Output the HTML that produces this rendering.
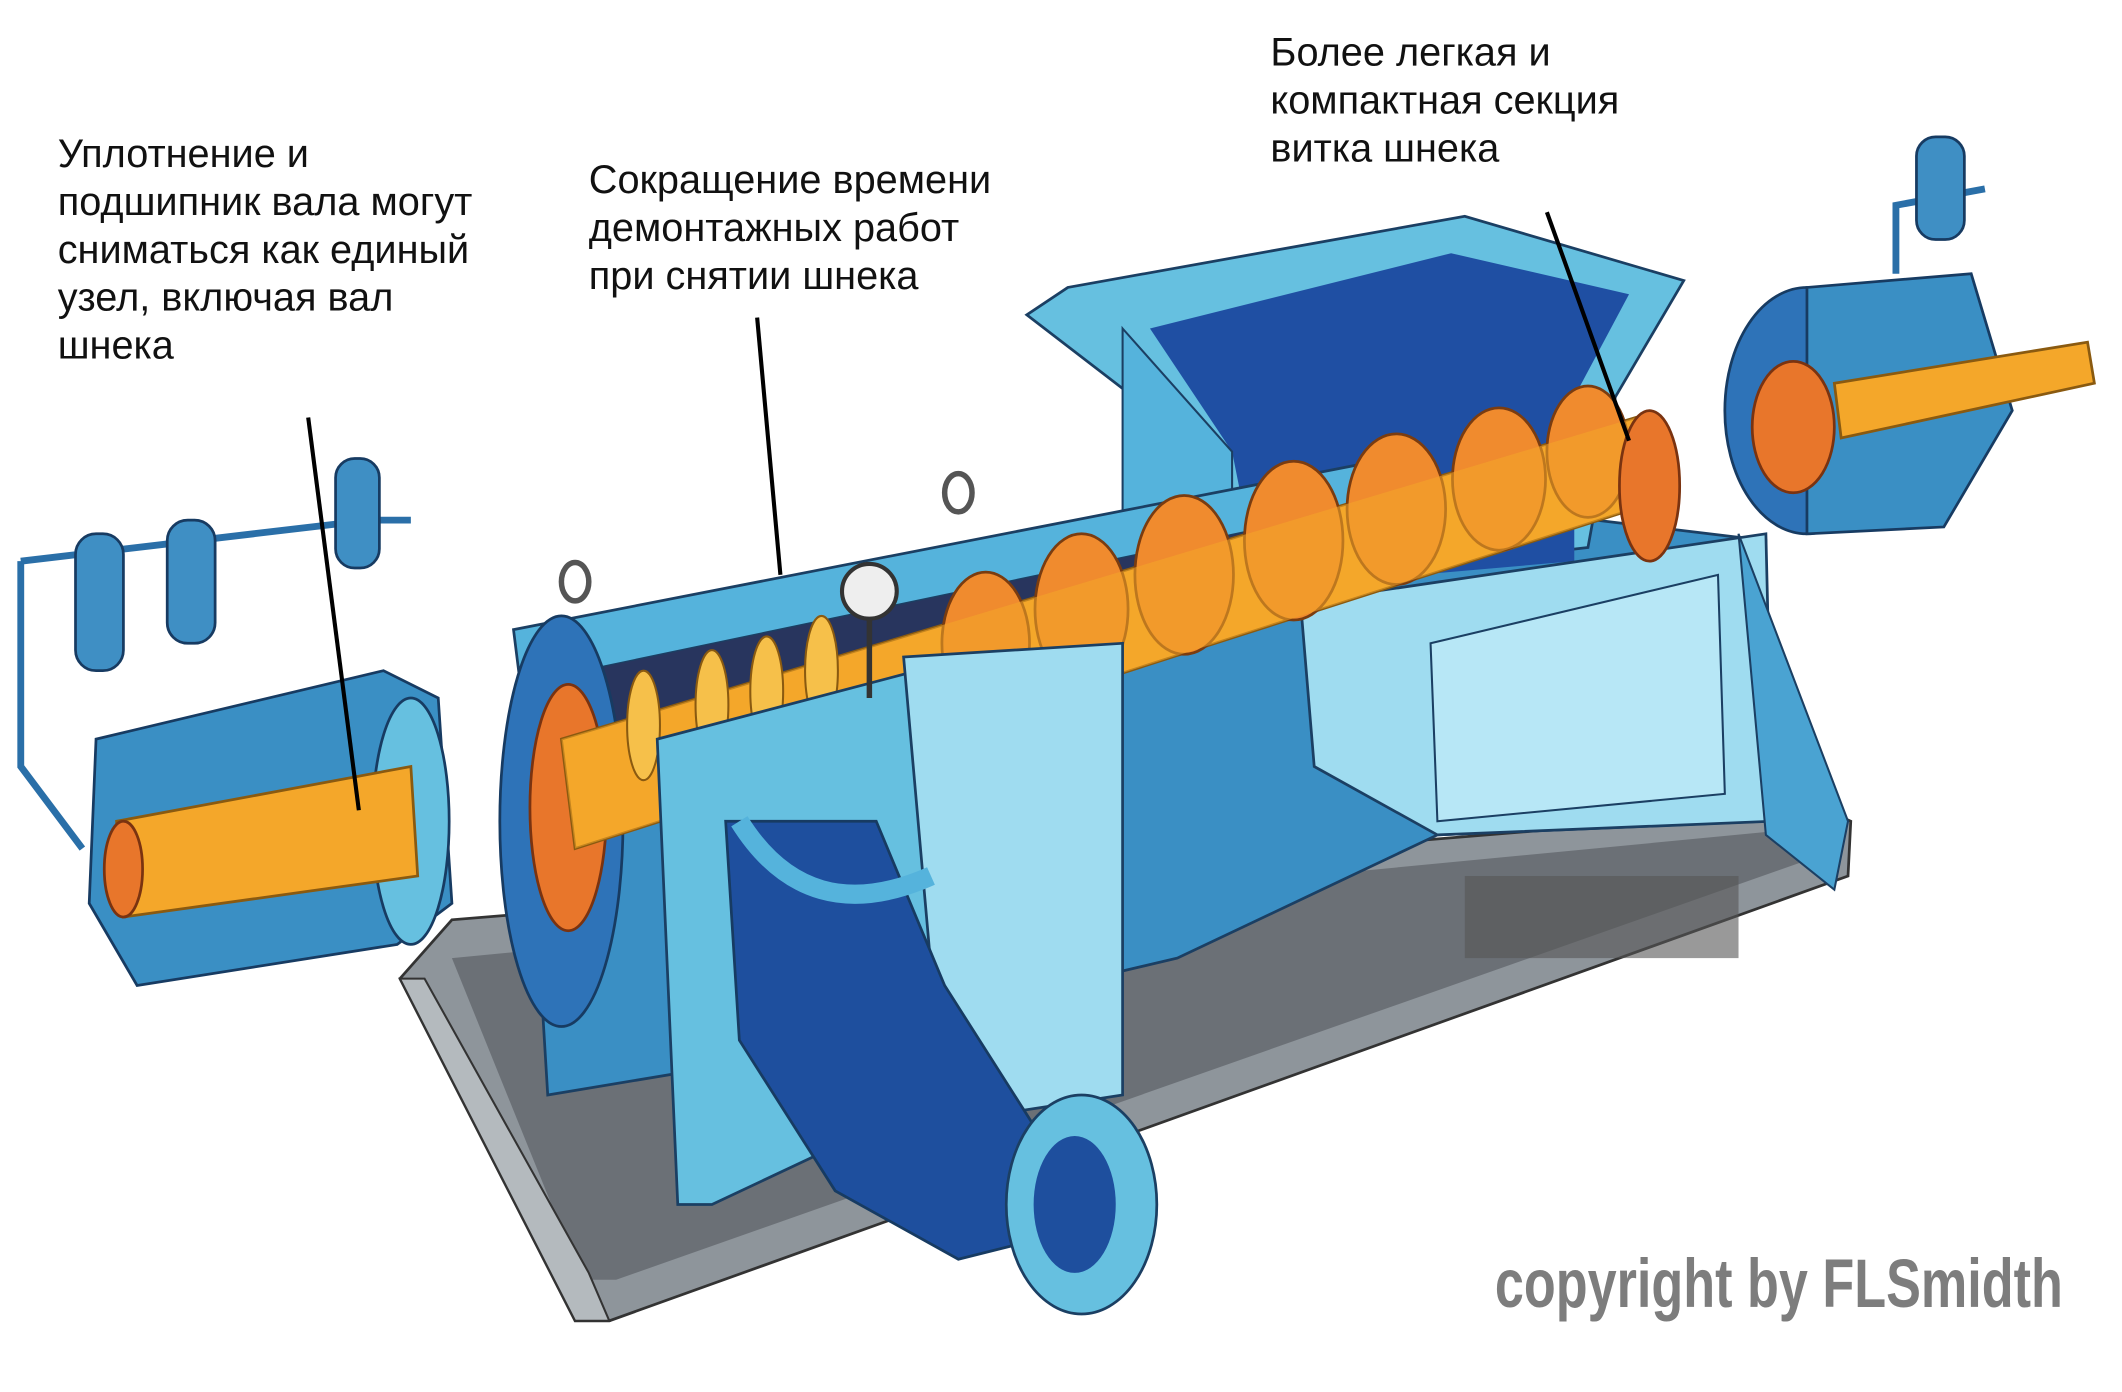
<!DOCTYPE html>
<html><head><meta charset="utf-8"><style>
html,body{margin:0;padding:0;background:#fff;}
svg{display:block}
text{font-family:"Liberation Sans",sans-serif;}
</style></head><body>
<svg width="2122" height="1392" viewBox="0 0 1550 1017" xmlns="http://www.w3.org/2000/svg">
<rect width="1550" height="1017" fill="#fff"/>
<!-- base plate -->
<polygon points="292,715 330,672 1330,590 1352,600 1350,640 445,965 420,965" fill="#8e959b" stroke="#333" stroke-width="2"/>
<polygon points="330,700 1320,605 1330,625 450,935 425,935" fill="#6b7076"/>
<polygon points="292,715 420,965 445,965 430,930 310,715" fill="#b4babe" stroke="#333" stroke-width="1.5"/>
<!-- main trough body -->
<polygon points="380,470 1000,360 1290,395 1290,600 1050,610 860,700 520,780 400,800" fill="#3a8fc4" stroke="#1b3f63" stroke-width="2"/>
<!-- hopper -->
<polygon points="780,210 1070,158 1230,205 1180,290 1160,400 900,430 880,330 750,230" fill="#66c0e0" stroke="#1b3f63" stroke-width="2"/>
<polygon points="840,240 1060,185 1190,215 1150,290 1150,410 920,430 900,330" fill="#1f4fa3"/>
<polygon points="820,240 900,330 900,400 820,410" fill="#55b3dc" stroke="#1b3f63" stroke-width="1.5"/>
<!-- right box -->
<polygon points="950,440 1290,390 1295,600 1050,610 960,560" fill="#9fdcf0" stroke="#1b3f63" stroke-width="2"/>
<polygon points="1045,470 1255,420 1260,580 1050,600" fill="#b7e7f6" stroke="#1b3f63" stroke-width="1.5"/>
<polygon points="1270,390 1350,600 1340,650 1290,610" fill="#4aa3d2" stroke="#1b3f63" stroke-width="1.5"/>
<rect x="1070" y="640" width="200" height="60" fill="#555" opacity=".6"/>
<!-- left housing top -->
<polygon points="375,460 990,340 1000,370 380,500" fill="#55b3dc" stroke="#1b3f63" stroke-width="2"/>
<polygon points="380,500 1000,370 1000,420 400,560" fill="#28355e"/>
<!-- flange left -->
<ellipse cx="410" cy="600" rx="45" ry="150" fill="#2e73b8" stroke="#173b62" stroke-width="2"/>
<ellipse cx="415" cy="590" rx="28" ry="90" fill="#e8762b" stroke="#7a3310" stroke-width="2"/>
<!-- shaft -->
<polygon points="410,540 1195,305 1215,365 420,620" fill="#f4a72a" stroke="#8a5a10" stroke-width="2"/>
<!-- flights -->
<g fill="#f08b2e" stroke="#7a3c10" stroke-width="2">
<ellipse cx="720" cy="470" rx="32" ry="52"/><ellipse cx="790" cy="445" rx="34" ry="55"/>
<ellipse cx="865" cy="420" rx="36" ry="58"/><ellipse cx="945" cy="395" rx="36" ry="58"/>
<ellipse cx="1020" cy="372" rx="36" ry="55"/><ellipse cx="1095" cy="350" rx="34" ry="52"/>
<ellipse cx="1160" cy="330" rx="30" ry="48"/>
</g>
<polygon points="410,540 1195,305 1215,365 420,620" fill="#f4a72a" opacity=".55"/>
<g fill="#f6c04a" stroke="#8a5a10" stroke-width="1.5">
<ellipse cx="470" cy="530" rx="12" ry="40"/><ellipse cx="520" cy="515" rx="12" ry="40"/>
<ellipse cx="560" cy="505" rx="12" ry="40"/><ellipse cx="600" cy="490" rx="12" ry="40"/>
</g>
<ellipse cx="1205" cy="355" rx="22" ry="55" fill="#e8762b" stroke="#7a3310" stroke-width="2"/>
<!-- front bracket / outlet -->
<polygon points="480,540 670,490 690,800 520,880 495,880" fill="#66c0e0" stroke="#1b3f63" stroke-width="2"/>
<polygon points="660,480 820,470 820,800 690,820" fill="#9fdcf0" stroke="#1b3f63" stroke-width="2"/>
<polygon points="530,600 640,600 690,720 760,830 780,900 700,920 610,870 540,760" fill="#1e4f9e" stroke="#173b62" stroke-width="2"/>
<path d="M540,600 Q590,680 680,640" fill="none" stroke="#55b3dc" stroke-width="14"/>
<ellipse cx="790" cy="880" rx="55" ry="80" fill="#66c0e0" stroke="#1b3f63" stroke-width="2"/>
<ellipse cx="785" cy="880" rx="30" ry="50" fill="#1e4f9e"/>
<circle cx="635" cy="432" r="20" fill="#eee" stroke="#333" stroke-width="3"/>
<line x1="635" y1="452" x2="635" y2="510" stroke="#333" stroke-width="4"/>
<ellipse cx="420" cy="425" rx="10" ry="14" fill="none" stroke="#555" stroke-width="4"/>
<ellipse cx="700" cy="360" rx="10" ry="14" fill="none" stroke="#555" stroke-width="4"/>
<!-- left bearing unit -->
<path d="M15,410 L15,560 L60,620" fill="none" stroke="#2a6fa8" stroke-width="5"/>
<path d="M15,410 L270,380 L300,380" fill="none" stroke="#2a6fa8" stroke-width="5"/>
<rect x="55" y="390" width="35" height="100" rx="15" fill="#3f8fc4" stroke="#173b62" stroke-width="2"/>
<rect x="122" y="380" width="35" height="90" rx="15" fill="#3f8fc4" stroke="#173b62" stroke-width="2"/>
<rect x="245" y="335" width="32" height="80" rx="14" fill="#3f8fc4" stroke="#173b62" stroke-width="2"/>
<polygon points="70,540 280,490 320,510 330,660 290,690 100,720 65,660" fill="#3a8fc4" stroke="#173b62" stroke-width="2"/>
<ellipse cx="300" cy="600" rx="28" ry="90" fill="#66c0e0" stroke="#173b62" stroke-width="2"/>
<polygon points="85,600 300,560 305,640 90,670" fill="#f4a72a" stroke="#8a5a10" stroke-width="2"/>
<ellipse cx="90" cy="635" rx="14" ry="35" fill="#e8762b" stroke="#7a3310" stroke-width="2"/>
<!-- right bearing unit -->
<path d="M1385,200 L1385,150 L1450,138" fill="none" stroke="#2a6fa8" stroke-width="5"/>
<rect x="1400" y="100" width="35" height="75" rx="14" fill="#3f8fc4" stroke="#173b62" stroke-width="2"/>
<ellipse cx="1320" cy="300" rx="60" ry="90" fill="#2e73b8" stroke="#173b62" stroke-width="2"/>
<polygon points="1320,210 1440,200 1470,300 1420,385 1320,390" fill="#3a8fc4" stroke="#173b62" stroke-width="2"/>
<polygon points="1340,280 1525,250 1530,280 1345,320" fill="#f4a72a" stroke="#8a5a10" stroke-width="2"/>
<ellipse cx="1310" cy="312" rx="30" ry="48" fill="#e8762b" stroke="#7a3310" stroke-width="2"/>
<!-- leader lines -->
<g stroke="#000" stroke-width="3">
<line x1="225" y1="305" x2="262" y2="592"/>
<line x1="553" y1="232" x2="570" y2="420"/>
<line x1="1130" y1="155" x2="1190" y2="322"/>
</g>
<!-- labels -->
<g font-size="29" fill="#111">
<text x="42" y="122">Уплотнение и</text>
<text x="42" y="157">подшипник вала могут</text>
<text x="42" y="192">сниматься как единый</text>
<text x="42" y="227">узел, включая вал</text>
<text x="42" y="262">шнека</text>
<text x="430" y="141">Сокращение времени</text>
<text x="430" y="176">демонтажных работ</text>
<text x="430" y="211">при снятии шнека</text>
<text x="928" y="48">Более легкая и</text>
<text x="928" y="83">компактная секция</text>
<text x="928" y="118">витка шнека</text>
</g>
<text x="1092" y="955" font-size="50" font-weight="bold" fill="#7d7d7d" textLength="415" lengthAdjust="spacingAndGlyphs">copyright by FLSmidth</text>
</svg>
</body></html>
